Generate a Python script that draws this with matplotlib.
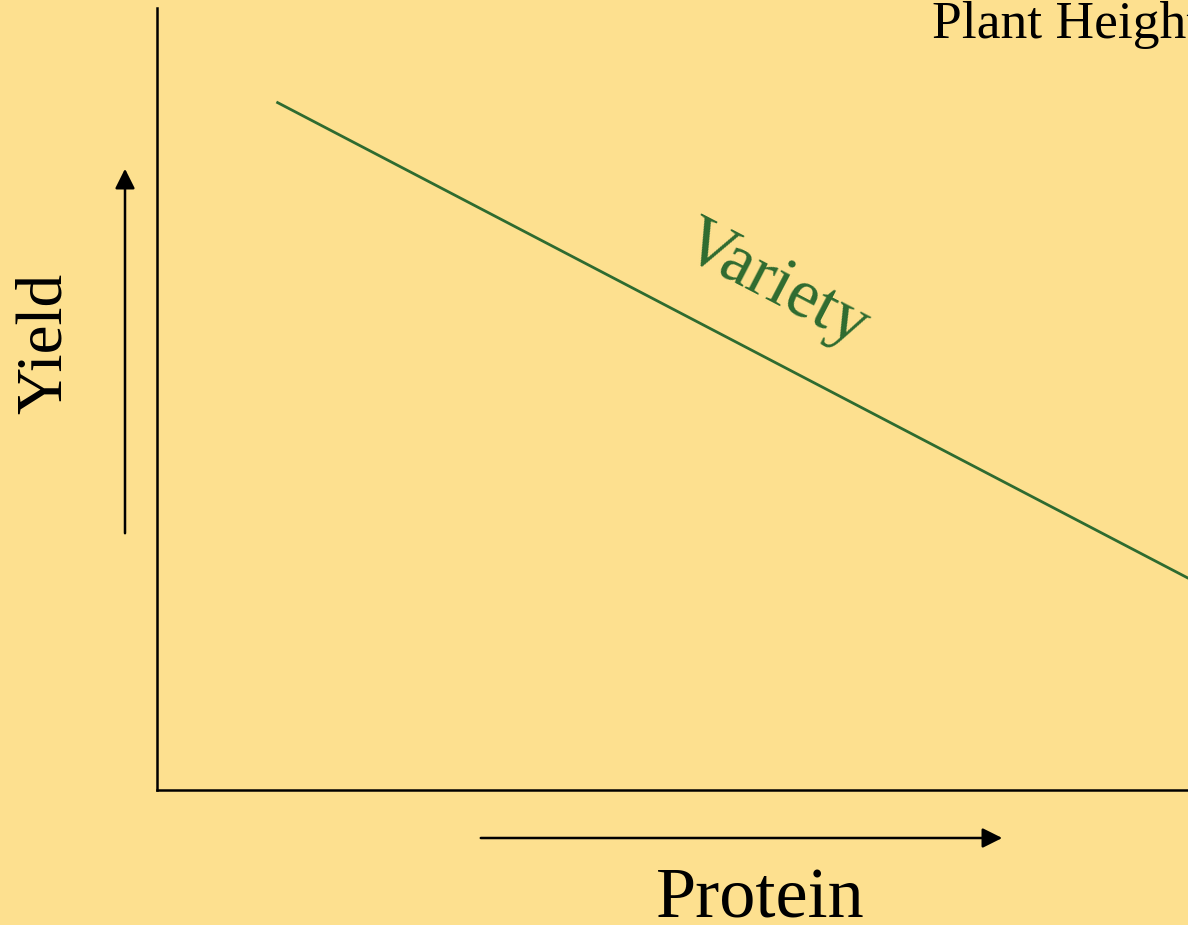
import matplotlib
matplotlib.use('Agg')
import matplotlib.pyplot as plt

# chart values (arbitrary 0-10 units on both axes)
protein = [1.17, 10.0]
yield_ = [8.79, 2.71]
line_label = 'Variety'
x_title = 'Protein'
y_title = 'Yield'
corner_label = 'Plant Height'

bg = '#fde08f'
green = '#2e6b30'

plt.rcParams['font.family'] = ['Liberation Serif', 'DejaVu Serif']

fig = plt.figure(figsize=(11.88, 9.25), dpi=100, facecolor=bg)
ax = fig.add_axes([157 / 1188, 135 / 925, 1 - 157 / 1188, 782 / 925])
ax.set_facecolor(bg)
ax.set_xlim(0, 10)
ax.set_ylim(0, 10)
ax.plot(protein, yield_, color=green, lw=2.0)

for s in ['top', 'right']:
    ax.spines[s].set_visible(False)
for s in ['left', 'bottom']:
    ax.spines[s].set_linewidth(1.8)
ax.set_xticks([])
ax.set_yticks([])

ax.text(5.99, 6.46, line_label, color=green, fontsize=50, rotation=-27.5,
        ha='center', va='center', rotation_mode='anchor')

# arrows and axis titles outside the axes
arr = dict(arrowstyle='-|>', color='black', lw=1.8, mutation_scale=30)
ax.annotate('', xy=(1005 / 1188, 1 - 838 / 925), xytext=(478 / 1188, 1 - 838 / 925),
            xycoords='figure fraction', textcoords='figure fraction', arrowprops=arr)
ax.annotate('', xy=(125 / 1188, 1 - 166 / 925), xytext=(125 / 1188, 1 - 536 / 925),
            xycoords='figure fraction', textcoords='figure fraction', arrowprops=arr)

fig.text(760 / 1188, 1 - 918 / 925, x_title, fontsize=52, ha='center', va='baseline')
fig.text(45 / 1188, 1 - 343 / 925, y_title, fontsize=47, ha='center', va='center',
         rotation=90)
fig.text(932 / 1188, 1 - 38 / 925, corner_label, fontsize=38.5, ha='left', va='baseline')

fig.savefig('out.png', dpi=100, facecolor=bg)
